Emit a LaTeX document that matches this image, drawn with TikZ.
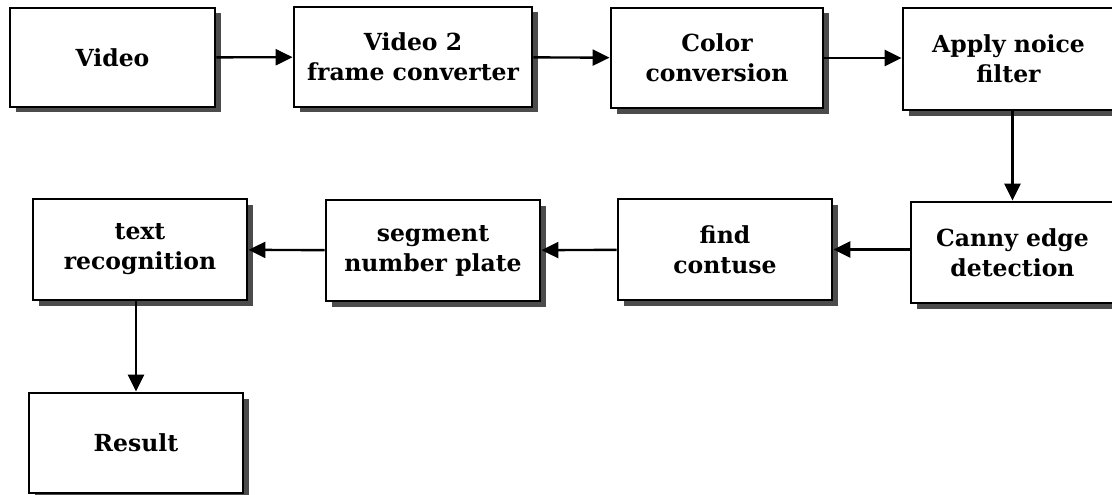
\documentclass[tikz,border=0pt]{standalone}
\usepackage{fontspec}
\setmainfont{DejaVu Serif}
\usetikzlibrary{arrows.meta,shadows}
\begin{document}
\begin{tikzpicture}[x=1pt,y=-1pt,
  stepbox/.style={draw=black, line width=2.8pt, fill=white, align=center,
    inner sep=0pt,
    font=\fontsize{23.5}{30}\selectfont\bfseries,
    drop shadow={shadow xshift=5.5pt, shadow yshift=-5.5pt, fill=black!70, opacity=1}},
  flow/.style={line width=2.4pt, -{Triangle[length=17pt,width=16pt]}}]
  \useasboundingbox (0,0) rectangle (1112,495);
  \begin{scope}
  \clip (0,0) rectangle (1112,495);
  % top row
  \node[stepbox, minimum width=205pt, minimum height=99pt] (video) at (112.5,57.5) {Video};
  \node[stepbox, minimum width=238pt, minimum height=100pt] (frames) at (413,57) {Video 2\\frame converter};
  \node[stepbox, minimum width=212pt, minimum height=100pt] (color) at (717,58) {Color\\conversion};
  \node[stepbox, minimum width=211pt, minimum height=102pt] (noise) at (1008.5,59) {Apply noice\\filter};
  % middle row
  \node[stepbox, minimum width=203pt, minimum height=101pt] (canny) at (1012.5,252.5) {Canny edge\\detection};
  \node[stepbox, minimum width=214pt, minimum height=101pt] (contour) at (725,249.5) {find\\contuse};
  \node[stepbox, minimum width=214pt, minimum height=101pt] (segment) at (433,250.5) {segment\\number plate};
  \node[stepbox, minimum width=214pt, minimum height=101pt] (ocr) at (140,249.5) {text\\recognition};
  % bottom row
  \node[stepbox, minimum width=214pt, minimum height=100pt] (result) at (136,443) {Result};
  % connectors
  \draw[flow] (video) -- (frames);
  \draw[flow] (frames) -- (color);
  \draw[flow] (color) -- (noise.west |- color);
  \draw[flow] (canny.north |- noise.south) -- (canny.north);
  \draw[flow] (canny.west |- contour) -- (contour);
  \draw[flow] (contour) -- (segment);
  \draw[flow] (segment) -- (ocr);
  \draw[flow] (result.north |- ocr.south) -- (result.north);
  \end{scope}
\end{tikzpicture}
\end{document}
